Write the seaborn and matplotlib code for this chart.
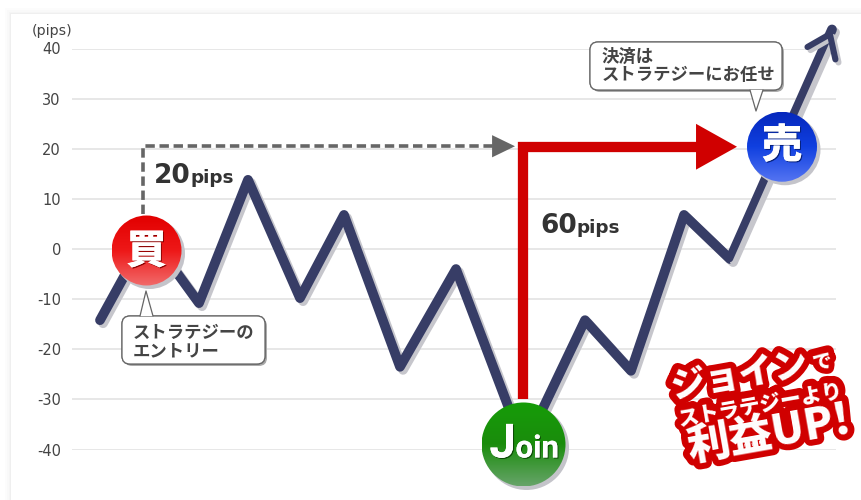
import numpy as np
import pandas as pd
import seaborn as sns
import matplotlib.pyplot as plt
import matplotlib.patheffects as pe
from matplotlib.colors import LinearSegmentedColormap
from matplotlib.patches import Circle, FancyBboxPatch, Polygon, Rectangle
from matplotlib.transforms import Affine2D, IdentityTransform

"""Chart values"""
session = [0.56, 1.52, 2.54, 3.52, 4.56, 5.44, 6.56, 7.68, 9.04, 10.26, 11.18, 12.24, 13.16, 15.2]
pips = [-14.2, 3.2, -10.8, 13.8, -9.8, 6.8, -23.5, -4, -39.7, -14.2, -24.3, 6.8, -2, 43.8]
ytick_values = [40, 30, 20, 10, 0, -10, -20, -30, -40]
ytick_labels = ['40', '30', '20', '10', '0', '-10', '-20', '-30', '-40']
entry_point = (1.49, -0.3)
join_point = (9.03, -39)
exit_point = (14.2, 20.4)
dash_x = [1.42, 1.42, 8.5]
dash_y = [7, 20.5, 20.5]
red_x = [9.02, 9.02, 12.6]
red_y = [-30, 20.4, 20.4]
grey_tip = (8.86, 20.5)
red_tip = (13.3, 20.4)

JP = ['Noto Sans CJK JP', 'DejaVu Sans']
NAVY = '#373d66'
RED = '#d00000'

sns.set_theme(style='whitegrid')
plt.rcParams['font.family'] = ['DejaVu Sans', 'Noto Sans CJK JP']

fig = plt.figure(figsize=(8.61, 5), dpi=100, facecolor='white')
ax = fig.add_axes([72 / 861, 1 - 449.5 / 500, 764 / 861, 401 / 500])
ax.set_facecolor('none')
px = Affine2D().scale(1, -1).translate(0, 500)

"""White card with a soft edge"""
for grow, shade in [(6, '#fcfcfc'), (4, '#f9f9f9'), (2, '#f5f5f5'), (1, '#efefef')]:
    fig.add_artist(Rectangle((11 - grow, 14 - grow), 861, 500, transform=px, fc=shade, ec='none', zorder=-5))
fig.add_artist(Rectangle((11, 14), 861, 500, transform=px, fc='white', ec='none', zorder=-4))

"""Price line"""
df = pd.DataFrame({'session': session, 'pips': pips})
line_fx = [pe.SimpleLineShadow(offset=(2.2, -2.2), shadow_color='#c6c6cc', alpha=1), pe.Normal()]
sns.lineplot(ax=ax, data=df, x='session', y='pips', color=NAVY, linewidth=7, sort=False,
             estimator=None, clip_on=False, zorder=3, solid_capstyle='round', solid_joinstyle='round',
             path_effects=line_fx)
ax.annotate('', xy=(session[-1], pips[-1]), xytext=(session[-2], pips[-2]), zorder=3, annotation_clip=False,
            arrowprops=dict(arrowstyle='->,head_length=15,head_width=11', mutation_scale=1, lw=4.4, color=NAVY,
                            shrinkA=0, shrinkB=0, capstyle='round', joinstyle='round', path_effects=line_fx))

ax.set_xlim(0, 15.28)
ax.set_ylim(-40, 40)
ax.set_yticks(ytick_values)
ax.set_yticklabels(ytick_labels, fontsize=10.5, color='#444444')
ax.tick_params(axis='y', length=0, pad=8)
ax.set_xticks([])
ax.set_xlabel('')
ax.set_ylabel('')
ax.grid(axis='x', visible=False)
ax.grid(axis='y', color='#e0e0e0', linewidth=1.1)
sns.despine(ax=ax, left=True, bottom=True)
ax.set_axisbelow(True)
fig.text(32, 31, '(pips)', transform=px, fontsize=10.3, color='#444444', va='center')

"""Target and profit arrows"""
ax.plot(dash_x, dash_y, color='#666666', lw=2.6, ls=(0, (2.6, 1.3)), zorder=4, clip_on=False, solid_joinstyle='miter')
ax.annotate('', xy=grey_tip, xytext=(grey_tip[0] - 1, grey_tip[1]), zorder=4,
            arrowprops=dict(arrowstyle='-|>,head_length=16.5,head_width=8', mutation_scale=1, lw=0, color='#666666',
                            shrinkA=0, shrinkB=0))
ax.plot(red_x, red_y, color=RED, lw=7.4, zorder=5, solid_joinstyle='miter', solid_capstyle='butt')
ax.annotate('', xy=red_tip, xytext=(red_x[-1], red_y[-1]), zorder=5,
            arrowprops=dict(arrowstyle='-|>,head_length=29.5,head_width=16.5', mutation_scale=1, lw=0, color=RED,
                            shrinkA=0, shrinkB=0))


def label_pair(x, y, big, small):
    big_txt = fig.text(x, y, big, transform=px, fontsize=19, fontweight='bold', color='#333333', va='baseline')
    end = big_txt.get_window_extent(fig.canvas.get_renderer()).x1
    fig.text(end, y, small, transform=px, fontsize=13.2, fontweight='bold', color='#333333', va='baseline')


label_pair(154, 183, '20', 'pips')
label_pair(540, 233, '60', 'pips')


def badge(point, radius, stops):
    """Round marker with a vertical gradient, centred on a data point"""
    cx, cy = ax.transData.transform(point)
    ax.add_patch(Circle((cx + 3, cy - 3), radius + 0.5, transform=IdentityTransform(), fc='#c4c4ca', ec='none',
                        zorder=6, clip_on=False))
    cmap = LinearSegmentedColormap.from_list('badge', stops)
    disc = Circle((cx, cy), radius, transform=IdentityTransform(), fc='none', ec='none', zorder=7, clip_on=False)
    ax.add_patch(disc)
    img = ax.imshow(np.linspace(0, 1, 64).reshape(-1, 1), cmap=cmap, aspect='auto', zorder=7,
                    extent=(cx - radius, cx + radius, cy - radius, cy + radius), transform=IdentityTransform())
    img.set_clip_box(fig.bbox)
    img.set_clip_path(disc)
    ax.set_xlim(0, 15.28)
    ax.set_ylim(-40, 40)
    return cx, cy


def glyph_fx(color):
    return [pe.withSimplePatchShadow(offset=(0.8, -0.8), shadow_rgbFace=color, alpha=1), pe.Normal()]


cx, cy = badge(entry_point, 35, ['#e20000', '#ee1818', '#f16a6a'])
ax.text(cx, cy - 1, '買', transform=IdentityTransform(), family=JP, fontweight='black', fontsize=29, color='white',
        ha='center', va='center', zorder=8, path_effects=glyph_fx('#8a0000'))
cx, cy = badge(exit_point, 35, ['#0628bd', '#1040e0', '#5474f2'])
ax.text(cx, cy + 1, '売', transform=IdentityTransform(), family=JP, fontweight='black', fontsize=29, color='white',
        ha='center', va='center', zorder=8, path_effects=glyph_fx('#06207a'))
cx, cy = badge(join_point, 42, ['#169c08', '#1a8c0c', '#66a468'])
ax.text(cx - 34, cy - 13, 'J', transform=IdentityTransform(), family='Roboto', fontweight='bold', fontsize=34,
        color='white', ha='left', va='baseline', zorder=8, path_effects=glyph_fx('#0c4a06'))
ax.text(cx - 8, cy - 13, 'oin', transform=IdentityTransform(), family='Roboto', fontweight='bold', fontsize=22.5,
        color='white', ha='left', va='baseline', zorder=8, path_effects=glyph_fx('#0c4a06'))


def callout(left, top, right, bottom, tail, lines, text_x, text_y):
    """Speech bubble: rounded box, tail patch and bold label lines"""
    shadow = pe.withSimplePatchShadow(offset=(1.4, -1.4), shadow_rgbFace='#a8a8a8', alpha=1)
    fig.add_artist(FancyBboxPatch((left + 7, top + 7), right - left - 14, bottom - top - 14, transform=px,
                                  boxstyle='round,pad=7,rounding_size=8', fc='white', ec='#666666', lw=0.9,
                                  zorder=9, path_effects=[shadow, pe.Normal()]))
    fig.add_artist(Polygon(tail, closed=False, transform=px, fc='white', ec='none', zorder=9.1))
    xs, ys = zip(*tail)
    fig.add_artist(plt.Line2D(xs, ys, transform=px, color='#666666', lw=0.9, zorder=9.2))
    for i, row in enumerate(lines):
        fig.text(text_x, text_y + i * 18, row, transform=px, family=JP, fontweight='bold', fontsize=12.5,
                 color='#444444', va='center', zorder=9.3)


callout(122, 316, 265, 364, [(140, 316), (146, 291), (153, 316)], ['ストラテジーの', 'エントリー'], 133, 333)
callout(590, 42, 782, 90, [(750, 90), (756, 111), (763, 90)], ['決済は', 'ストラテジーにお任せ'], 602, 57)

"""Slogan stamp: red outlines first, white letters on top of all of them"""
stamp = [('ジョイン', 739, 376, 25), ('で', 822, 362, 14), ('ストラテジーより', 761, 405, 15), ('利益UP!', 769, 434, 31)]
for word, sx, sy, size in stamp:
    fig.text(sx, sy, word, transform=px, family=JP, fontweight='black', fontsize=size, color=RED, rotation=10,
             ha='center', va='center', rotation_mode='anchor', zorder=10,
             path_effects=[pe.withStroke(linewidth=9, foreground=RED)])
for word, sx, sy, size in stamp:
    fig.text(sx, sy, word, transform=px, family=JP, fontweight='black', fontsize=size, color='white', rotation=10,
             ha='center', va='center', rotation_mode='anchor', zorder=11)

fig.savefig('out.png', dpi=100)
